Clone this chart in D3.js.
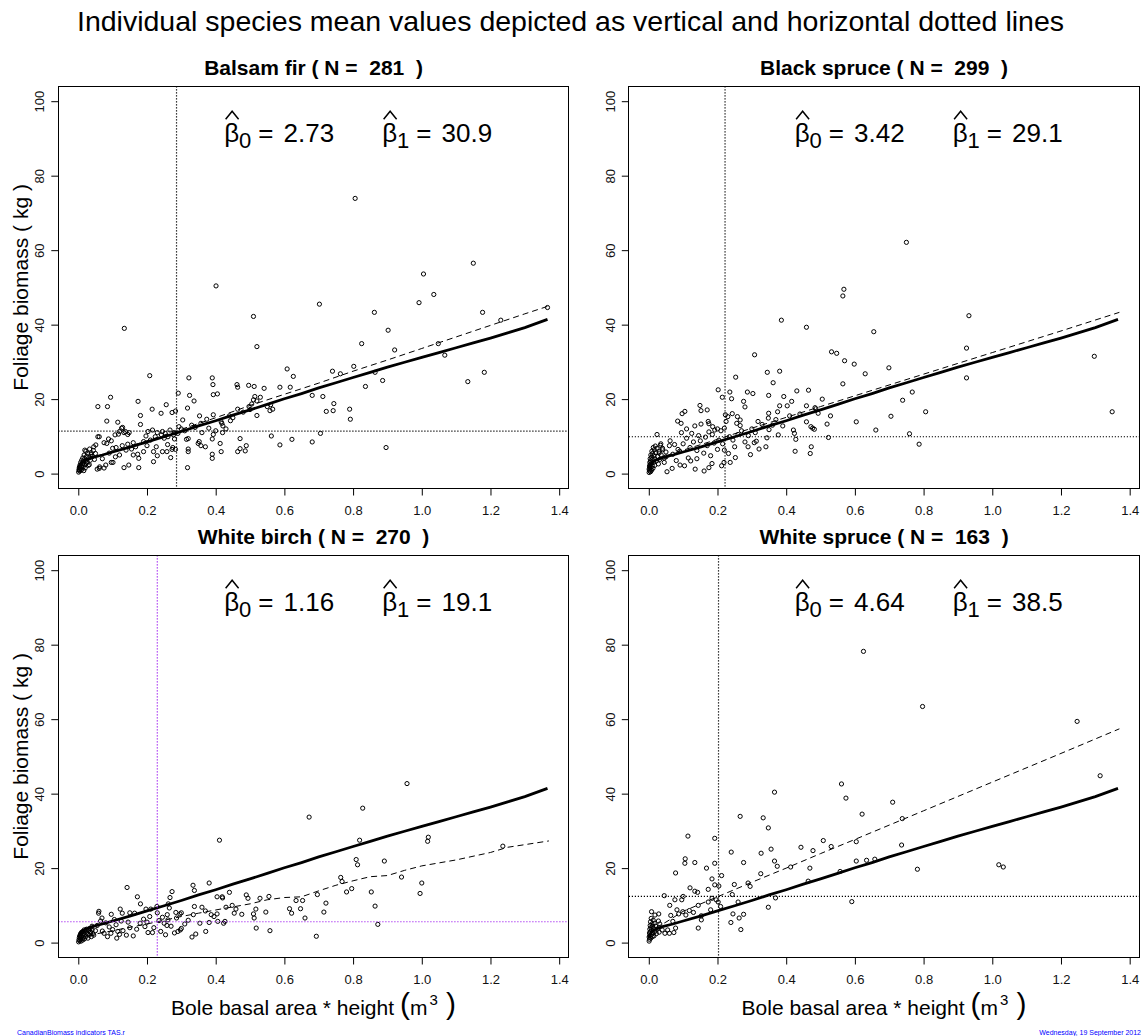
<!DOCTYPE html>
<html>
<head>
<meta charset="utf-8">
<script src="https://cdn.jsdelivr.net/npm/d3@7"></script>
<style>
  body { margin: 0; background: #fff; }
  svg { display: block; font-family: "Liberation Sans", Arial, sans-serif; }
</style>
</head>
<body>
<div id="chart"></div>
<script>
// titles and labels
var mainTitle = "Individual species mean values depicted as vertical and horizontal dotted lines";
var yTitle = "Foliage biomass ( kg )";
var footLeft = "CanadianBiomass indicators TAS.r";
var footRight = "Wednesday, 19 September 2012";

// per-species summaries (order: panels left-right, top-bottom)
var species = ["Balsam fir", "Black spruce", "White birch", "White spruce"];
var nObs = [281, 299, 270, 163];
var beta0 = ["2.73", "3.42", "1.16", "4.64"];
var beta1 = ["30.9", "29.1", "19.1", "38.5"];
var meanX = [0.286, 0.222, 0.230, 0.203];
var meanY = [11.4, 9.9, 5.6, 12.4];

var xTicks = [0, 0.2, 0.4, 0.6, 0.8, 1.0, 1.2, 1.4];
var yTicks = [0, 20, 40, 60, 80, 100];

// pooled fit (solid line, same in every panel)
var fitPooled = [[0,1.4],[0.004,2.4],[0.01,3.0],[0.02,3.6],[0.04,4.3],[0.07,5.0],[0.1,5.8],[0.15,7.1],[0.2,8.5],
  [0.25,9.9],[0.3,11.3],[0.35,12.8],[0.4,14.2],[0.45,15.7],[0.5,17.1],[0.55,18.6],[0.6,20.1],[0.65,21.5],
  [0.7,23.0],[0.75,24.4],[0.8,25.8],[0.85,27.2],[0.9,28.6],[0.95,29.9],[1.0,31.2],[1.05,32.5],[1.1,33.8],
  [1.15,35.1],[1.2,36.4],[1.25,37.8],[1.3,39.2],[1.366,41.4]];

// species fits (dashed lines)
var fitBalsamFir = [[0,2.0],[0.03,3.9],[0.1,5.9],[0.2,8.8],[0.3,11.9],[0.4,15.0],[0.5,18.3],[0.6,21.3],[0.7,24.3],
  [0.8,27.5],[0.9,30.5],[1.0,33.6],[1.1,36.7],[1.2,39.8],[1.3,42.9],[1.366,44.9]];
var fitBlackSpruce = [[0,2.2],[0.03,4.2],[0.1,6.3],[0.2,9.2],[0.3,12.2],[0.4,15.1],[0.5,18.0],[0.6,20.9],[0.8,26.7],
  [1.0,32.5],[1.2,38.3],[1.37,43.3]];
var fitWhiteBirch = [[0,1.0],[0.05,2.3],[0.1,3.2],[0.2,5.0],[0.3,7.0],[0.35,7.9],[0.42,9.1],[0.5,10.4],[0.55,11.5],
  [0.6,12.1],[0.65,12.3],[0.7,13.9],[0.75,15.4],[0.8,16.6],[0.85,17.7],[0.9,18.0],[0.95,19.4],[1.0,20.6],
  [1.1,22.2],[1.2,24.2],[1.25,25.6],[1.3,26.3],[1.37,27.3]];
var fitWhiteSpruce = [[0,2.0],[0.02,4.0],[0.05,5.5],[0.1,8.4],[0.2,12.3],[0.3,16.2],[0.4,20.0],[0.5,23.9],[0.6,27.7],
  [0.8,35.4],[1.0,43.1],[1.2,50.8],[1.37,57.4]];

// observations [volume, foliage]
var obsBalsamFir = [[0.806,73.9],[0.401,50.4],[1.005,53.6],[1.150,56.5],[1.035,48.1],[0.702,45.5],[0.992,45.9],
  [0.862,43.3],[1.177,43.3],[1.366,44.6],[0.510,42.2],[0.134,39.0],[0.902,38.5],[0.520,34.1],[0.921,33.2],
  [0.825,34.9],[1.048,34.9],[1.067,31.8],[1.182,27.2],[1.134,24.7],[1.23,41.2],[0.608,28.1],[0.626,26.1],
  [0.208,26.3],[0.802,28.8],[0.740,27.5],[0.763,26.8],[0.864,27.2],[0.836,23.4],[0.886,25.0],[0.617,23.2],
  [0.587,23.2],[0.541,22.9],[0.512,23.4],[0.496,23.7],[0.462,23.9],[0.464,23.2],[0.390,25.7],[0.392,23.9],
  [0.322,25.7],[0.393,21.2],[0.405,21.4],[0.291,21.6],[0.324,21.0],[0.681,21.0],[0.712,20.7],[0.514,20.7],
  [0.094,20.5],[0.497,18.0],[0.505,18.7],[0.337,19.5],[0.744,18.8],[0.742,16.9],[0.722,16.7],[0.790,17.3],
  [0.792,14.6],[0.318,17.6],[0.560,18.5],[0.566,17.3],[0.558,16.9],[0.520,15.6],[0.464,17.3],[0.443,14.2],
  [0.418,13.5],[0.085,18.0],[0.057,18.0],[0.174,19.4],[0.256,18.5],[0.273,16.4],[0.283,16.8],[0.241,16.2],
  [0.215,17.3],[0.181,15.6],[0.181,13.2],[0.083,14.1],[0.115,13.8],[0.129,12.4],[0.148,11.0],[0.133,11.0],
  [0.120,11.3],[0.357,13.5],[0.353,15.5],[0.374,14.6],[0.393,15.8],[0.416,13.9],[0.421,12.8],[0.352,8.6],
  [0.349,8.1],[0.357,7.5],[0.370,7.2],[0.390,9.3],[0.393,10.5],[0.413,8.1],[0.416,5.9],[0.390,5.2],
  [0.390,4.1],[0.464,5.9],[0.471,6.7],[0.486,6.1],[0.489,7.5],[0.471,9.4],[0.562,10.1],[0.587,7.7],
  [0.622,9.2],[0.681,8.5],[0.705,10.8],[0.896,7.0],[0.320,9.4],[0.315,9.2],[0.320,6.6],[0.320,5.9],
  [0.318,1.6],[0.269,4.3],[0.275,7.0],[0.273,6.5],[0.258,5.9],[0.245,5.9],[0.219,5.9],[0.219,3.2],
  [0.230,4.8],[0.190,5.9],[0.176,4.1],[0.176,1.6],[0.147,2.3],[0.133,1.6],[0.101,3.0],[0.080,2.3],
  [0.061,1.4],[0.055,1.2],[0.032,2.4],[0.013,2.7],[0.003,0.9],[0.037,5.1],[0.045,7.2],[0.051,7.7],
  [0.057,9.9],[0.061,9.9],[0.075,8.3],[0.083,8.1],[0.088,9.3],[0.096,8.8],[0.107,10.4],[0.117,10.6],
  [0.126,12.2],[0.137,11.3],[0.144,10.5],[0.128,7.5],[0.139,6.3],[0.144,7.9],[0.155,6.6],[0.160,8.3],
  [0.167,7.2],[0.173,5.2],[0.190,8.6],[0.197,10.1],[0.203,11.3],[0.216,11.7],[0.224,9.9],[0.227,7.2],
  [0.242,10.4],[0.245,11.3],[0.253,10.8],[0.261,9.9],[0.267,11.7],[0.277,10.4],[0.279,11.0],[0.283,6.5],
  [0.293,12.6],[0.304,14.4],[0.019,6.3],[0.062,1.8],[0.075,1.5],[0.096,3.0],[0.108,4.5],[0.12,5.0],
  [0.07,4.0],[0.09,5.5],[0.1,6.8],[0.11,7.0],[0.16,5.0],[0.2,7.5],[0.21,9.0],[0.23,11.0],[0.25,9.5],
  [0.26,7.8],[0.28,9.3],[0.29,10.8],[0.3,12.0],[0.31,11.5],[0.33,13.0],[0.34,12.4],[0.36,11.0],[0.38,12.2],
  [0.4,11.5],[0.42,11.0],[0.45,15.0],[0.44,15.5],[0.43,12.0],[0.48,16.5],[0.5,17.2],[0.52,19.5],[0.53,20.5],
  [0.51,19.8],[0.55,18.0],
  [0.001,0.4],[0.002,1.1],[0.003,1.7],[0.004,0.7],[0.005,2.3],[0.006,1.4],[0.007,3.0],[0.008,0.9],[0.009,2.0],
  [0.010,3.6],[0.011,1.2],[0.012,2.6],[0.013,4.2],[0.014,1.8],[0.015,3.2],[0.016,0.8],[0.017,5.0],[0.018,2.4],
  [0.019,4.0],[0.020,1.5],[0.021,3.5],[0.022,6.0],[0.023,2.8],[0.024,4.6],[0.026,3.0],[0.027,5.4],[0.029,2.2],
  [0.031,4.2],[0.033,6.6],[0.035,3.6],[0.038,5.6],[0.041,4.6],[0.044,6.2],[0.047,3.8],[0.05,5.4]];

var obsBlackSpruce = [[0.750,62.1],[0.568,49.5],[0.565,47.7],[0.932,42.4],[0.386,41.2],[0.459,39.3],[0.655,38.1],
  [0.925,33.7],[0.532,32.7],[0.547,32.3],[0.308,31.9],[1.297,31.5],[0.570,30.3],[0.598,29.4],[0.699,28.4],
  [0.345,27.2],[0.381,27.5],[0.630,26.8],[0.253,25.9],[0.925,25.7],[0.362,24.4],[0.565,24.1],[0.202,22.5],
  [0.431,22.2],[0.465,22.4],[0.236,21.9],[0.287,21.9],[0.303,21.5],[0.767,21.9],[0.349,21.0],[0.393,20.7],
  [0.214,20.5],[0.241,20.1],[0.505,20.0],[0.416,19.4],[0.276,19.4],[0.739,19.7],[0.149,18.3],[0.170,17.1],
  [0.280,17.9],[0.381,18.2],[0.403,18.2],[0.459,18.2],[0.484,17.7],[0.486,17.4],[0.493,16.2],[0.105,16.7],
  [0.097,16.1],[0.152,16.9],[0.349,16.2],[0.375,16.6],[0.806,16.6],[1.349,16.6],[0.223,15.8],[0.230,15.3],
  [0.243,16.1],[0.258,15.3],[0.529,15.5],[0.705,15.4],[0.084,14.1],[0.094,13.5],[0.173,14.0],[0.175,13.4],
  [0.134,12.8],[0.152,13.3],[0.186,12.6],[0.192,11.7],[0.225,14.0],[0.256,13.5],[0.266,14.4],[0.266,12.9],
  [0.318,14.0],[0.348,14.9],[0.459,13.9],[0.519,13.3],[0.604,13.9],[0.472,12.6],[0.477,12.2],[0.482,11.9],
  [0.421,11.7],[0.424,10.8],[0.661,11.7],[0.759,10.7],[0.787,7.9],[0.523,9.7],[0.428,9.2],[0.377,10.4],
  [0.344,9.6],[0.341,7.2],[0.426,6.0],[0.473,7.2],[0.470,5.4],[0.296,5.1],[0.307,8.3],[0.313,8.7],
  [0.321,6.6],[0.289,7.2],[0.237,3.0],[0.212,2.1],[0.219,3.0],[0.184,2.7],[0.161,0.7],[0.135,1.2],
  [0.175,1.6],[0.053,0.5],[0.068,1.4],[0.091,2.3],[0.104,2.1],[0.122,3.4],[0.024,10.5],[0.085,6.5],
  [0.232,5.4],[0.235,9.9],[0.22,6.3],[0.204,9.0],[0.252,4.3],
  [0.03,5.5],[0.04,6.8],[0.05,4.5],[0.06,7.5],[0.07,5.2],[0.075,7.8],[0.08,3.5],[0.09,6.0],[0.1,8.0],
  [0.11,9.5],[0.12,7.0],[0.13,8.5],[0.14,6.2],[0.145,10.2],[0.15,8.8],[0.16,5.5],[0.165,9.8],[0.17,7.5],
  [0.18,4.8],[0.185,10.5],[0.19,8.2],[0.2,6.5],[0.21,11.5],[0.215,8.0],[0.22,12.2],[0.245,9.0],[0.25,7.2],
  [0.26,10.5],[0.27,11.5],[0.28,8.5],[0.29,10.2],[0.3,12.0],[0.31,11.0],[0.33,13.2],[0.35,11.8],[0.36,13.0],
  [0.37,14.5],[0.39,12.8],[0.41,15.5],[0.44,16.0],[0.115,4.2],[0.125,10.8],[0.095,11.0],[0.11,12.0],
  [0.062,8.8],[0.045,3.0],[0.035,8.0],[0.14,4.0],[0.2,12.0],[0.175,11.2],
  [0.001,0.3],[0.001,1.2],[0.002,2.0],[0.002,0.8],[0.003,3.0],[0.003,1.6],[0.004,4.0],[0.004,2.4],[0.005,0.5],
  [0.005,3.4],[0.006,1.2],[0.006,5.0],[0.007,2.8],[0.008,4.4],[0.008,0.9],[0.009,6.0],[0.010,2.0],[0.010,3.8],
  [0.011,5.4],[0.012,1.4],[0.013,7.0],[0.014,3.0],[0.015,4.8],[0.016,6.4],[0.017,2.2],[0.018,4.0],[0.019,7.4],
  [0.020,5.6],[0.022,3.4],[0.024,6.8],[0.026,4.6],[0.028,2.6],[0.030,6.0],[0.032,3.8],[0.034,7.6],[0.036,5.0],
  [0.04,6.4],[0.045,4.2],[0.05,5.8]];

var obsWhiteBirch = [[0.957,42.7],[0.672,33.7],[0.828,36.1],[0.411,27.5],[0.819,27.5],[1.019,28.3],[1.017,27.2],
  [1.236,25.9],[0.809,22.3],[0.813,20.9],[0.891,21.9],[0.941,17.6],[0.764,17.5],[0.768,16.4],[1.0,16.0],
  [0.796,14.5],[0.781,13.6],[0.853,13.6],[0.995,13.2],[0.864,9.8],[0.872,4.9],[0.693,1.7],[0.696,12.9],
  [0.721,10.6],[0.715,8.2],[0.660,6.6],[0.634,11.3],[0.653,11.3],[0.615,9.1],[0.621,7.9],[0.647,9.1],
  [0.555,12.4],[0.529,11.9],[0.558,3.2],[0.518,3.9],[0.517,9.0],[0.510,7.7],[0.512,6.6],[0.546,8.2],
  [0.489,12.8],[0.494,11.9],[0.476,7.6],[0.440,13.5],[0.404,12.3],[0.419,12.3],[0.381,16.0],[0.334,15.4],
  [0.338,14.0],[0.338,9.7],[0.335,7.5],[0.331,1.5],[0.342,2.3],[0.371,3.0],[0.354,5.2],[0.381,5.4],
  [0.395,7.0],[0.387,7.5],[0.404,7.7],[0.406,5.7],[0.423,5.2],[0.427,5.7],[0.448,10.0],[0.459,9.0],
  [0.454,7.9],[0.273,13.7],[0.267,12.1],[0.262,10.4],[0.265,9.3],[0.284,8.1],[0.296,7.7],[0.286,6.6],
  [0.29,3.0],[0.297,3.4],[0.259,7.5],[0.261,6.1],[0.258,4.6],[0.254,2.1],[0.235,5.9],[0.208,7.0],
  [0.211,9.0],[0.229,9.7],[0.216,2.7],[0.203,2.7],[0.194,4.3],[0.197,9.0],[0.181,10.4],[0.142,14.8],
  [0.172,12.3],[0.164,7.9],[0.128,7.9],[0.122,9.0],[0.12,2.2],[0.112,1.2],[0.096,7.6],[0.06,8.4],
  [0.059,7.9],[0.069,6.6],[0.055,4.6],[0.085,1.6],[0.075,2.5],
  [0.1,3.5],[0.11,4.8],[0.13,3.2],[0.14,2.0],[0.15,4.0],[0.16,1.8],[0.17,3.6],[0.18,5.2],[0.19,6.3],
  [0.15,8.0],[0.145,5.5],[0.125,5.8],[0.105,6.2],[0.09,4.2],[0.08,5.3],[0.07,3.1],[0.065,5.8],[0.05,3.2],
  [0.045,2.0],[0.04,4.4],[0.035,2.8],[0.03,3.6],[0.22,4.0],[0.24,3.0],[0.25,5.2],[0.27,4.4],[0.28,2.6],
  [0.3,3.8],[0.31,5.0],[0.32,6.0],[0.2,5.5],[0.23,8.0],[0.245,6.8],[0.36,9.5],[0.37,8.5],[0.42,12.0],
  [0.43,9.5],[0.3,8.0],[0.095,2.5],[0.115,3.0],
  [0.001,0.2],[0.002,0.8],[0.003,1.4],[0.004,0.5],[0.005,1.9],[0.006,1.0],[0.007,2.4],[0.008,0.4],[0.009,1.6],
  [0.010,2.8],[0.011,1.1],[0.012,2.0],[0.013,0.7],[0.014,3.0],[0.015,1.5],[0.016,2.5],[0.017,3.4],[0.018,1.0],
  [0.019,2.2],[0.020,3.0],[0.022,1.6],[0.024,3.6],[0.026,2.4],[0.028,1.2],[0.030,3.2],[0.032,2.0],[0.034,3.8],
  [0.036,2.8],[0.038,1.6],[0.040,3.4],[0.043,2.4]];

var obsWhiteSpruce = [[0.625,78.2],[0.797,63.4],[1.247,59.4],[1.314,44.8],[0.561,42.6],[0.574,38.8],[0.366,40.4],
  [0.710,37.7],[0.621,34.5],[0.266,33.9],[0.333,33.5],[0.348,30.8],[0.738,33.3],[0.114,28.6],[0.192,28.0],
  [0.508,27.4],[0.604,27.1],[0.531,25.8],[0.443,25.6],[0.356,25.1],[0.736,26.2],[0.240,24.3],[0.327,24.0],
  [0.478,24.7],[0.106,22.5],[0.105,21.3],[0.134,21.5],[0.192,21.3],[0.276,21.5],[0.366,21.9],[0.604,21.9],
  [0.634,22.1],[0.658,22.4],[0.168,20.0],[0.413,20.3],[0.374,20.5],[0.469,20.0],[0.782,19.7],[0.557,19.1],
  [1.019,20.9],[1.032,20.3],[0.078,18.7],[0.212,18.0],[0.326,18.5],[0.184,17.1],[0.192,15.5],[0.204,15.2],
  [0.249,15.6],[0.289,16.0],[0.464,16.5],[0.120,14.7],[0.173,14.3],[0.134,13.8],[0.142,13.5],[0.295,15.1],
  [0.045,12.6],[0.100,12.4],[0.076,11.5],[0.096,11.5],[0.184,11.9],[0.196,11.5],[0.202,10.9],[0.369,12.0],
  [0.243,12.9],[0.173,10.9],[0.260,10.9],[0.348,9.5],[0.591,11.0],[0.144,10.0],[0.061,10.0],[0.209,9.7],
  [0.180,8.8],[0.008,8.3],[0.082,8.8],[0.099,8.3],[0.118,8.6],[0.087,7.7],[0.108,7.4],[0.130,8.1],
  [0.153,7.2],[0.064,7.3],[0.018,7.4],[0.029,7.7],[0.276,7.6],[0.245,7.7],[0.153,6.1],[0.144,3.9],
  [0.239,5.4],[0.263,6.6],[0.268,3.5],[0.070,5.7],[0.047,2.5],[0.060,2.5],[0.073,2.7],[0.078,3.9],
  [0.055,3.4],[0.032,5.0],[0.039,3.4],
  [0.001,0.4],[0.001,1.5],[0.002,2.6],[0.002,0.9],[0.003,3.6],[0.003,1.9],[0.004,4.6],[0.005,2.9],[0.005,5.6],
  [0.006,1.2],[0.006,4.0],[0.007,6.5],[0.008,2.2],[0.008,3.4],[0.009,5.0],[0.010,1.6],[0.011,4.4],[0.012,2.6],
  [0.013,6.0],[0.014,3.8],[0.015,1.8],[0.016,5.2],[0.018,3.0],[0.020,4.4],[0.022,2.4],[0.025,3.6],[0.028,5.8],
  [0.030,2.8]];

var observations = [obsBalsamFir, obsBlackSpruce, obsWhiteBirch, obsWhiteSpruce];
var speciesFits = [fitBalsamFir, fitBlackSpruce, fitWhiteBirch, fitWhiteSpruce];

// layout
var width = 1141, height = 1036;
var panelW = 570.5, panelH = 469;
var box = { left: 58.3, right: 568.8, top: 86.3, bottom: 488.5 };

var svg = d3.select("#chart").append("svg")
    .attr("width", width)
    .attr("height", height);

svg.append("rect").attr("width", width).attr("height", height).attr("fill", "#fff");

svg.append("text")
    .attr("x", width / 2)
    .attr("y", 31)
    .attr("text-anchor", "middle")
    .attr("font-size", 28.5)
    .text(mainTitle);

var line = d3.line();

species.forEach(function(name, i) {
  var col = i % 2, row = Math.floor(i / 2);
  var g = svg.append("g")
      .attr("transform", "translate(" + (col * panelW) + "," + (row * panelH) + ")");

  var x = d3.scaleLinear().domain([-0.0582, 1.428]).range([box.left, box.right]);
  var y = d3.scaleLinear().domain([-4, 104]).range([box.bottom, box.top]);
  line.x(function(d) { return x(d[0]); }).y(function(d) { return y(d[1]); });

  var clipId = "clip" + i;
  g.append("clipPath").attr("id", clipId)
    .append("rect")
      .attr("x", box.left).attr("y", box.top)
      .attr("width", box.right - box.left).attr("height", box.bottom - box.top);

  var plot = g.append("g").attr("clip-path", "url(#" + clipId + ")");

  //points
  plot.selectAll("circle")
      .data(observations[i])
    .enter().append("circle")
      .attr("cx", function(d) { return x(d[0]); })
      .attr("cy", function(d) { return y(d[1]); })
      .attr("r", 2.1)
      .attr("fill", "none")
      .attr("stroke", "#000")
      .attr("stroke-width", 1);

  //pooled fit and species fit
  plot.append("path")
      .attr("d", line(fitPooled))
      .attr("fill", "none")
      .attr("stroke", "#000")
      .attr("stroke-width", 2.8);

  plot.append("path")
      .attr("d", line(speciesFits[i]))
      .attr("fill", "none")
      .attr("stroke", "#000")
      .attr("stroke-width", 1)
      .attr("stroke-dasharray", "6,4");

  //species means (birch drawn in purple)
  var meanColor = (name === "White birch") ? "#a020f0" : "#000";
  plot.append("line")
      .attr("x1", x(meanX[i])).attr("x2", x(meanX[i]))
      .attr("y1", box.top).attr("y2", box.bottom)
      .attr("stroke", meanColor).attr("stroke-width", 1.2).attr("stroke-dasharray", "1.2,1.8");
  plot.append("line")
      .attr("x1", box.left).attr("x2", box.right)
      .attr("y1", y(meanY[i])).attr("y2", y(meanY[i]))
      .attr("stroke", meanColor).attr("stroke-width", 1.2).attr("stroke-dasharray", "1.2,1.8");

  //frame
  g.append("rect")
      .attr("x", box.left).attr("y", box.top)
      .attr("width", box.right - box.left).attr("height", box.bottom - box.top)
      .attr("shape-rendering", "crispEdges")
      .attr("fill", "none").attr("stroke", "#000").attr("stroke-width", 1);

  //axes
  var xAxis = g.append("g")
      .attr("transform", "translate(0," + box.bottom + ")")
      .call(d3.axisBottom(x).tickValues(xTicks).tickSize(7).tickSizeOuter(0)
        .tickPadding(10).tickFormat(d3.format(".1f")));
  xAxis.select(".domain").remove();
  xAxis.selectAll("text").attr("font-size", 13).attr("font-family", null).attr("fill", "#111");

  var yAxis = g.append("g")
      .attr("transform", "translate(" + box.left + ",0)")
      .call(d3.axisLeft(y).tickValues(yTicks).tickSize(7).tickSizeOuter(0));
  yAxis.select(".domain").remove();
  yAxis.selectAll("text")
      .attr("x", null).attr("dy", null)
      .attr("text-anchor", "middle")
      .attr("transform", "translate(-14.3,0) rotate(-90)")
      .attr("font-size", 13).attr("font-family", null).attr("fill", "#111");

  //panel title
  g.append("text")
      .attr("x", (box.left + box.right) / 2)
      .attr("y", 75)
      .attr("text-anchor", "middle")
      .attr("font-size", 21)
      .attr("font-weight", "bold")
      .attr("xml:space", "preserve")
      .style("white-space", "pre")
      .text(name + " ( N =  " + nObs[i] + "  )");

  //beta hats
  betaLabel(g, x(0.56), y(89), "0", beta0[i]);
  betaLabel(g, x(1.02), y(89), "1", beta1[i]);

  if (col === 0) {
    g.append("text")
        .attr("transform", "translate(28," + ((box.top + box.bottom) / 2) + ") rotate(-90)")
        .attr("text-anchor", "middle")
        .attr("font-size", 21)
        .text(yTitle);
  }
  if (row === 1) {
    var xt = g.append("text")
        .attr("x", (box.left + box.right) / 2)
        .attr("y", 1015 - panelH)
        .attr("text-anchor", "middle")
        .attr("font-size", 21)
        .attr("xml:space", "preserve")
        .style("white-space", "pre");
    xt.append("tspan").text("Bole basal area * height ");
    xt.append("tspan").attr("font-size", 30).attr("dy", -1.5).text("(");
    xt.append("tspan").attr("dy", 1.5).text("m");
    xt.append("tspan").attr("font-size", 15).attr("dy", -10).attr("dx", 2).text("3");
    xt.append("tspan").attr("font-size", 30).attr("dy", 8.5).text(" )");
  }
});

function betaLabel(g, cx, baseY, sub, value) {
  var t = g.append("text")
      .attr("y", baseY)
      .attr("font-size", 26)
      .attr("xml:space", "preserve")
      .style("white-space", "pre");
  var b = t.append("tspan").text("\u03b2");
  t.append("tspan").attr("font-size", 22).attr("dy", 6).text(sub);
  t.append("tspan").attr("dy", -6).attr("dx", 7).text("=");
  t.append("tspan").attr("dx", 10).text(value);
  var w = t.node().getComputedTextLength();
  var x0 = cx - w / 2;
  t.attr("x", x0);
  var bw = b.node().getComputedTextLength();
  g.append("path")
      .attr("d", "M" + (x0 + 1.5) + "," + (baseY - 23) + "L" + (x0 + bw / 2 + 0.5) + "," + (baseY - 31) +
        "L" + (x0 + bw - 0.5) + "," + (baseY - 23))
      .attr("fill", "none")
      .attr("stroke", "#000")
      .attr("stroke-width", 1.5);
}

//footer
svg.append("text")
    .attr("x", 17).attr("y", 1035)
    .attr("font-size", 7).attr("fill", "#0000ff")
    .text(footLeft);
svg.append("text")
    .attr("x", width).attr("y", 1035)
    .attr("text-anchor", "end")
    .attr("font-size", 7).attr("fill", "#0000ff")
    .text(footRight);
</script>
</body>
</html>
